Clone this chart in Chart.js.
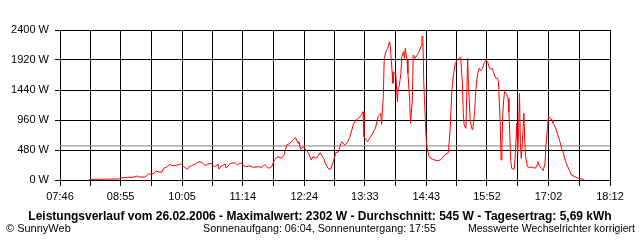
<!DOCTYPE html>
<html>
<head>
<meta charset="utf-8">
<script src="https://cdn.jsdelivr.net/npm/chart.js@4"></script>
<style>
  body { margin: 0; background: #fff; }
  #wrap { width: 640px; height: 240px; }
</style>
</head>
<body>
<div id="wrap"><canvas id="myChart" width="640" height="240"></canvas></div>
<script>
// Messzeitpunkte (Minuten seit Mitternacht) und Leistung in W
const minutes = [499, 533, 534, 543, 549, 554, 556, 563, 567, 572, 575, 579, 582, 584, 588, 591, 593, 597, 603, 605,
    607, 611, 613, 616, 620, 624, 628, 631, 634, 638, 642, 646, 647, 650, 654, 655, 660, 665, 668, 671,
    677, 682, 686, 692, 696, 699, 703, 707, 710, 714, 718, 721, 724, 728, 731, 734, 737, 738, 740, 743,
    746, 749, 752, 754, 758, 762, 766, 768, 771, 774, 777, 780, 783, 785, 787, 790, 793, 796, 800, 803,
    806, 809, 811, 812, 816, 820, 825, 828, 831, 832, 834, 835, 837, 839, 841, 842, 844, 845, 846, 848,
    850, 851, 852, 854, 855, 857, 858, 859, 861, 862, 864, 865, 867, 868, 870, 874, 877, 878, 879, 880,
    882, 883, 884, 886, 890, 895, 899, 904, 908, 910, 912, 914, 916, 918, 920, 922, 924, 925, 926, 928,
    929, 930, 931, 933, 935, 936, 938, 939, 941, 943, 945, 947, 949, 951, 953, 955, 957, 958, 960, 962,
    964, 965, 967, 968, 969, 970, 971, 972, 974, 976, 977, 979, 980, 983, 984, 986, 987, 988, 989, 990,
    991, 992, 994, 995, 996, 998, 1000, 1004, 1007, 1009, 1010, 1012, 1014, 1016, 1018, 1019, 1021, 1022, 1024, 1026,
    1027, 1029, 1031, 1033, 1035, 1037, 1039, 1041, 1043, 1046, 1048, 1056, 1062];
const watts = [10, 15, 30, 43, 43, 64, 48, 48, 96, 96, 144, 128, 128, 187, 213, 250, 232, 229, 256, 240,
    213, 171, 216, 229, 256, 293, 280, 229, 256, 267, 213, 250, 176, 224, 256, 190, 267, 277, 240, 277,
    213, 224, 203, 213, 203, 250, 187, 213, 320, 373, 347, 400, 560, 587, 640, 677, 587, 613, 491, 533,
    480, 427, 320, 373, 347, 437, 347, 267, 187, 171, 293, 437, 453, 560, 613, 560, 597, 690, 893, 960,
    990, 1040, 1093, 693, 613, 704, 827, 1013, 1067, 891, 1333, 1947, 2053, 2107, 2213, 2133, 1733, 1547, 1707, 1733,
    1253, 1483, 1493, 1707, 1973, 2053, 1947, 2107, 1920, 1707, 1280, 907, 1280, 2000, 1947, 2027, 2144, 2302, 2302, 1573,
    907, 613, 507, 373, 331, 309, 320, 400, 437, 800, 1440, 1707, 1867, 1920, 1947, 1963, 1547, 1067, 880, 827,
    1387, 1947, 1493, 933, 811, 843, 1093, 1387, 1680, 1787, 1749, 1787, 1877, 1920, 1877, 1787, 1771, 1787, 1696, 1627,
    1627, 1573, 933, 320, 533, 1067, 1280, 1413, 1387, 1307, 1093, 320, 187, 171, 347, 907, 427, 800, 1387, 587,
    347, 533, 1067, 613, 373, 213, 203, 203, 187, 240, 293, 213, 187, 149, 267, 533, 853, 1024, 987, 960,
    917, 864, 800, 704, 613, 507, 427, 320, 240, 149, 80, 27, 11];
const avgWatts = 545;
const yTicks = [0, 480, 960, 1440, 1920, 2400];
const timeLabels = ['07:46', '08:55', '10:05', '11:14', '12:24', '13:33', '14:43', '15:52', '17:02', '18:12'];

const titleText = 'Leistungsverlauf vom 26.02.2006 - Maximalwert: 2302 W - Durchschnitt: 545 W - Tagesertrag: 5,69 kWh';
const footLeft = '\u00A9 SunnyWeb';
const footMid = 'Sonnenaufgang: 06:04, Sonnenuntergang: 17:55';
const footRight = 'Messwerte Wechselrichter korrigiert';

const toMin = (s) => {
    const p = s.split(':');
    return parseInt(p[0]) * 60 + parseInt(p[1]);
};
// Gitterlinien: Beschriftungen plus jeweils die Mitte dazwischen
let xTickVals = [];
timeLabels.forEach((l, i) => {
    xTickVals.push(toMin(l));
    if (i < timeLabels.length - 1) xTickVals.push((toMin(l) + toMin(timeLabels[i + 1])) / 2);
});

let points = [];
minutes.forEach((m, i) => {
    points.push({x: m, y: watts[i]});
});

const FONT = 'Liberation Sans, Arial, sans-serif';

const textPlugin = {
    id: 'texts',
    afterDraw: (chart) => {
        const ctx = chart.ctx;
        ctx.save();
        ctx.fillStyle = '#000';
        ctx.textBaseline = 'alphabetic';
        ctx.font = 'bold 12px ' + FONT;
        ctx.textAlign = 'center';
        ctx.fillText(titleText, 320, 220, 592);
        ctx.font = '11px ' + FONT;
        ctx.textAlign = 'left';
        ctx.fillText(footLeft, 6, 232);
        ctx.fillText(footMid, 203, 232, 233);
        ctx.fillText(footRight, 468, 232, 167);
        ctx.restore();
    }
};

const chartCtx = document.getElementById('myChart').getContext('2d');
const myChart = new Chart(chartCtx, {
    type: 'line',
    data: {
        datasets: [{
            label: 'Leistung',
            data: points,
            borderColor: '#ff0000',
            borderWidth: 1,
            pointRadius: 0,
            tension: 0,
            fill: false
        }, {
            label: 'Durchschnitt',
            data: [{x: xTickVals[0], y: avgWatts}, {x: xTickVals[xTickVals.length - 1], y: avgWatts}],
            borderColor: '#808080',
            borderWidth: 1,
            pointRadius: 0,
            fill: false
        }]
    },
    options: {
        responsive: false,
        animation: false,
        layout: {
            padding: {top: 30, right: 30, left: 0, bottom: 0}
        },
        plugins: {
            legend: {display: false},
            tooltip: {enabled: false}
        },
        scales: {
            x: {
                type: 'linear',
                min: xTickVals[0],
                max: xTickVals[xTickVals.length - 1],
                afterBuildTicks: (scale) => {
                    scale.ticks = xTickVals.map((v) => ({value: v}));
                },
                afterFit: (scale) => {
                    scale.height = 60;
                },
                grid: {
                    color: '#000',
                    lineWidth: 1,
                    tickLength: 6,
                    tickColor: '#000'
                },
                border: {color: '#000'},
                ticks: {
                    autoSkip: false,
                    maxRotation: 0,
                    padding: 4,
                    color: '#000',
                    font: {family: FONT, size: 11},
                    callback: (v, i) => (i % 2 === 0 ? timeLabels[i / 2] : '')
                }
            },
            y: {
                min: yTicks[0],
                max: yTicks[yTicks.length - 1],
                afterBuildTicks: (scale) => {
                    scale.ticks = yTicks.map((v) => ({value: v}));
                },
                afterFit: (scale) => {
                    scale.width = 60;
                },
                grid: {
                    color: '#000',
                    lineWidth: 1,
                    tickLength: 5,
                    tickColor: '#000'
                },
                border: {color: '#000'},
                ticks: {
                    padding: 6,
                    color: '#000',
                    font: {family: FONT, size: 11},
                    callback: (v) => v + ' W'
                }
            }
        }
    },
    plugins: [textPlugin]
});
</script>
</body>
</html>
